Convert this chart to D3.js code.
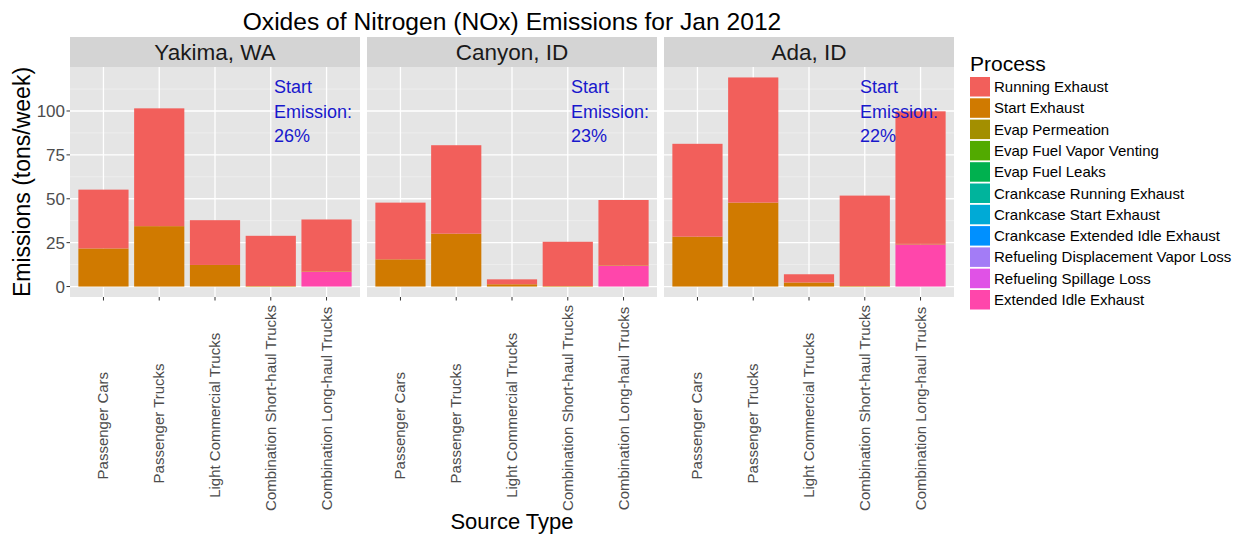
<!DOCTYPE html>
<html><head><meta charset="utf-8">
<script src="https://cdn.jsdelivr.net/npm/d3@7"></script>
<style>body{margin:0;background:#fff}svg{display:block}text{font-family:"Liberation Sans",Arial,sans-serif}</style>
</head><body><svg id="c" width="1236" height="536"></svg>
<script>
const counties = ["Yakima, WA", "Canyon, ID", "Ada, ID"];
const sourceTypes = ["Passenger Cars", "Passenger Trucks", "Light Commercial Trucks", "Combination Short-haul Trucks", "Combination Long-haul Trucks"];
const processes = ["Running Exhaust", "Start Exhaust", "Evap Permeation", "Evap Fuel Vapor Venting", "Evap Fuel Leaks", "Crankcase Running Exhaust", "Crankcase Start Exhaust", "Crankcase Extended Idle Exhaust", "Refueling Displacement Vapor Loss", "Refueling Spillage Loss", "Extended Idle Exhaust"];
const processColors = ["#F25F5B", "#D07A00", "#A38F00", "#52AA00", "#00B14F", "#00B49C", "#00AAD6", "#0090FF", "#A37CF6", "#E052E6", "#FF46AB"];
// values in tons/week, per county, per source type
const runningExhaust = [[33.5, 67.1, 25.5, 28.6, 29.6], [32.3, 50.4, 2.8, 25.2, 37.1], [52.9, 71.3, 4.7, 51.5, 75.5]];
const startExhaust = [[21.7, 34.4, 12.3, 0.3, 0.3], [15.5, 30.1, 1.3, 0.3, 0.3], [28.4, 47.8, 2.3, 0.3, 0.3]];
const extendedIdle = [[0, 0, 0, 0, 8.3], [0, 0, 0, 0, 11.9], [0, 0, 0, 0, 24.0]];
const startShare = ["26%", "23%", "22%"];
const yTicks = [0, 25, 50, 75, 100];
const yMinor = [12.5, 37.5, 62.5, 87.5, 112.5];

const svg = d3.select("#c");
const panelLeft = 70, panelW = 290, gap = 7, stripTop = 37, stripH = 30, plotTop = 67, plotBottom = 297;

function rowsFor(ci) {
  return sourceTypes.map((s, i) => {
    const r = {source: s};
    processes.forEach(p => r[p] = 0);
    r["Running Exhaust"] = runningExhaust[ci][i];
    r["Start Exhaust"] = startExhaust[ci][i];
    r["Extended Idle Exhaust"] = extendedIdle[ci][i];
    return r;
  });
}
const allRows = counties.map((c, ci) => rowsFor(ci));
const maxTotal = d3.max(allRows.flat(), r => d3.sum(processes, p => r[p]));
const pad = maxTotal * 0.05;
const y = d3.scaleLinear().domain([-pad, maxTotal + pad]).range([plotBottom, plotTop]);
const color = d3.scaleOrdinal().domain(processes).range(processColors);
const stack = d3.stack().keys(processes.slice().reverse());

// title
svg.append("text").attr("x", panelLeft + (3 * panelW + 2 * gap) / 2).attr("y", 30)
  .attr("text-anchor", "middle").attr("font-size", 24.6).attr("fill", "#000")
  .text("Oxides of Nitrogen (NOx) Emissions for Jan 2012");

counties.forEach((county, ci) => {
  const x0 = panelLeft + ci * (panelW + gap);
  const x = d3.scaleLinear().domain([0.4, sourceTypes.length + 0.6]).range([x0, x0 + panelW]);
  const g = svg.append("g");
  // strip
  g.append("rect").attr("x", x0).attr("y", stripTop).attr("width", panelW).attr("height", stripH).attr("fill", "#D4D4D4");
  g.append("text").attr("x", x0 + panelW / 2).attr("y", stripTop + stripH / 2 + 8).attr("text-anchor", "middle")
    .attr("font-size", 22.5).attr("fill", "#1a1a1a").text(county);
  // panel bg
  g.append("rect").attr("x", x0).attr("y", plotTop).attr("width", panelW).attr("height", plotBottom - plotTop).attr("fill", "#E5E5E5");
  // grid
  g.selectAll(".mn").data(yMinor).join("line").attr("x1", x0).attr("x2", x0 + panelW)
    .attr("y1", d => y(d)).attr("y2", d => y(d)).attr("stroke", "#F2F2F2").attr("stroke-width", 0.7);
  g.selectAll(".mj").data(yTicks).join("line").attr("x1", x0).attr("x2", x0 + panelW)
    .attr("y1", d => y(d)).attr("y2", d => y(d)).attr("stroke", "#fff").attr("stroke-width", 1.3);
  g.selectAll(".vx").data(sourceTypes).join("line").attr("x1", (d, i) => x(i + 1)).attr("x2", (d, i) => x(i + 1))
    .attr("y1", plotTop).attr("y2", plotBottom).attr("stroke", "#fff").attr("stroke-width", 1.3);
  // bars
  const series = stack(allRows[ci]);
  const bw = (x(2) - x(1)) * 0.9;
  series.forEach(s => {
    g.selectAll(null).data(s.filter(d => d[1] - d[0] > 0)).join("rect")
      .attr("x", d => x(sourceTypes.indexOf(d.data.source) + 1) - bw / 2)
      .attr("width", bw)
      .attr("y", d => y(d[1]))
      .attr("height", d => y(d[0]) - y(d[1]))
      .attr("fill", color(s.key));
  });
  // annotation
  const ann = g.append("text").attr("fill", "#1818CC").attr("font-size", 18)
    .attr("font-family", "'Open Sans', sans-serif");
  ["Start", "Emission:", startShare[ci]].forEach((t, k) => {
    ann.append("tspan").attr("x", x0 + (ci === 2 ? 196 : 204)).attr("y", 93 + k * 24.5).text(t);
  });
  // x ticks
  g.selectAll(".xt").data(sourceTypes).join("line").attr("x1", (d, i) => x(i + 1)).attr("x2", (d, i) => x(i + 1))
    .attr("y1", plotBottom).attr("y2", plotBottom + 3.5).attr("stroke", "#333").attr("stroke-width", 1);
  const labels = g.selectAll(".xl").data(sourceTypes).join("text")
    .attr("font-size", 15).attr("fill", "#4d4d4d").attr("text-anchor", "end").text(d => d);
  const lens = [];
  labels.each(function () { lens.push(this.getComputedTextLength()); });
  const Lmax = d3.max(lens);
  labels.attr("transform", (d, i) => `translate(${x(i + 1) + 5},${305 + (Lmax - lens[i]) * 0.68}) rotate(-90)`);

  if (ci === 0) {
    g.selectAll(".yt").data(yTicks).join("line").attr("x1", x0 - 3.5).attr("x2", x0)
      .attr("y1", d => y(d)).attr("y2", d => y(d)).attr("stroke", "#333");
    g.selectAll(".yl").data(yTicks).join("text").attr("x", x0 - 5).attr("y", d => y(d) + 6)
      .attr("text-anchor", "end").attr("font-size", 17).attr("fill", "#4d4d4d").text(d => d);
  }
});

// axis titles
svg.append("text").attr("transform", `translate(30,${(plotTop + plotBottom) / 2}) rotate(-90)`)
  .attr("text-anchor", "middle").attr("font-size", 23).attr("fill", "#000").text("Emissions (tons/week)");
svg.append("text").attr("x", panelLeft + (3 * panelW + 2 * gap) / 2).attr("y", 529)
  .attr("text-anchor", "middle").attr("font-size", 22).attr("fill", "#000").text("Source Type");

// legend
const lg = svg.append("g");
lg.append("text").attr("x", 970).attr("y", 71).attr("font-size", 21).attr("fill", "#000").text("Process");
processes.forEach((p, i) => {
  const yy = 77 + i * 21.3;
  lg.append("rect").attr("x", 970).attr("y", yy).attr("width", 20).attr("height", 19.5).attr("fill", color(p));
  lg.append("text").attr("x", 994).attr("y", yy + 15).attr("font-size", 15).attr("fill", "#000").text(p);
});
</script></body></html>
